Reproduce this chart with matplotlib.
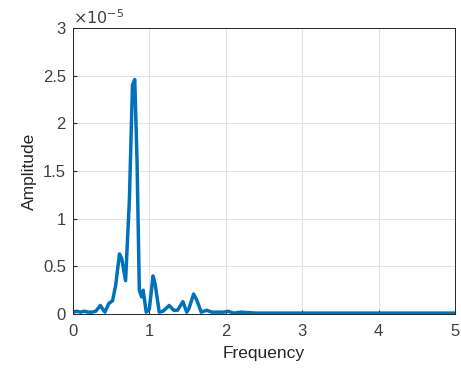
import matplotlib
matplotlib.use("Agg")
import matplotlib.pyplot as plt

freq = [0.00, 0.05, 0.10, 0.15, 0.20, 0.25, 0.30, 0.36, 0.42, 0.47, 0.52, 0.56,
        0.61, 0.64, 0.69, 0.74, 0.78, 0.81, 0.84, 0.87, 0.90, 0.92, 0.96, 1.00,
        1.05, 1.08, 1.13, 1.18, 1.26, 1.32, 1.37, 1.44, 1.49, 1.52, 1.58, 1.62,
        1.68, 1.75, 1.82, 1.90, 1.97, 2.03, 2.10, 2.20, 2.40, 2.60, 2.80, 3.00,
        3.30, 3.60, 4.00, 4.30, 4.60, 5.00]
amp = [0.02, 0.03, 0.02, 0.03, 0.02, 0.02, 0.03, 0.09, 0.02, 0.11, 0.14, 0.30,
       0.63, 0.58, 0.35, 1.20, 2.40, 2.46, 1.60, 0.25, 0.18, 0.25, 0.02, 0.05,
       0.40, 0.30, 0.02, 0.03, 0.09, 0.04, 0.04, 0.13, 0.02, 0.06, 0.21, 0.15,
       0.02, 0.04, 0.02, 0.02, 0.02, 0.03, 0.01, 0.02, 0.01, 0.01, 0.01, 0.01,
       0.01, 0.01, 0.01, 0.01, 0.01, 0.01]
scale = 1e-5
xticks = [0, 1, 2, 3, 4, 5]
yticks = [0, 0.5, 1, 1.5, 2, 2.5, 3]

plt.rcParams['font.family'] = ['Liberation Sans', 'DejaVu Sans']
fig = plt.figure(figsize=(4.61, 3.73), dpi=100)
ax = fig.add_axes([0.158, 0.158, 0.829, 0.767])
ax.plot(freq, [a * scale for a in amp], color='#0072BD', lw=2.5)
ax.set_xlim(0, 5)
ax.set_ylim(0, 3 * scale)
ax.set_xticks(xticks)
ax.set_yticks([t * scale for t in yticks])
ax.set_yticklabels([f"{t:g}" for t in yticks])
ax.grid(True, color='#e3e3e3', lw=0.8)
ax.set_axisbelow(True)
for s in ax.spines.values():
    s.set_color('#262626')
    s.set_linewidth(0.7)
ax.tick_params(direction='in', length=3, color='#262626', labelsize=12,
               labelcolor='#404040')
ax.tick_params(axis='x', pad=7)
ax.tick_params(axis='y', pad=5)
ax.set_xlabel('Frequency', fontsize=12.5, color='#262626', labelpad=5)
ax.set_ylabel('Amplitude', fontsize=12.5, color='#262626', labelpad=4)
ax.text(0.0, 1.005, r'$\times10^{-5}$', transform=ax.transAxes, fontsize=11.5,
        color='#404040', ha='left', va='bottom')
fig.savefig('out.png', dpi=100)
